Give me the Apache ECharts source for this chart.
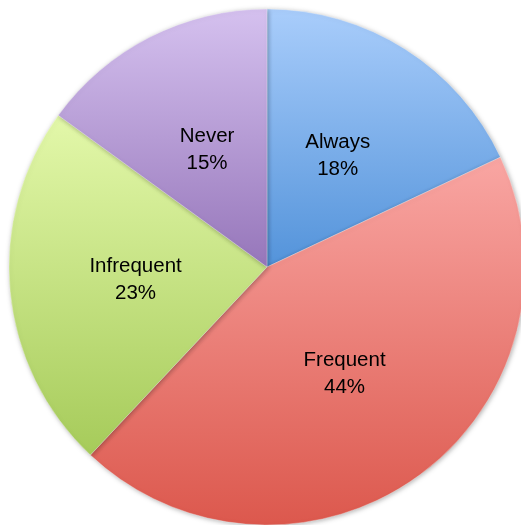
<!DOCTYPE html>
<html><head><meta charset="utf-8">
<script src="https://cdn.jsdelivr.net/npm/echarts@6/dist/echarts.min.js"></script>
<style>html,body{margin:0;padding:0;background:#fff}#c{width:521px;height:525px}</style>
</head><body><div id="c"></div>
<script>
var categories = ['Always', 'Frequent', 'Infrequent', 'Never'];
var values = [18, 44, 23, 15];
var topColors = ['#a9cdfb', '#f9a6a3', '#e3f8aa', '#d5c1ef'];
var bottomColors = ['#5393da', '#dc584d', '#a6cb5a', '#9676ba'];

var chart = echarts.init(document.getElementById('c'));
chart.setOption({
  animation: false,
  series: [{
    type: 'pie',
    center: [267, 267],
    radius: [0, 258],
    startAngle: 90,
    clockwise: true,
    label: {
      position: 'inside',
      formatter: function (p) { return p.name + '\n' + p.value + '%'; },
      color: '#000',
      fontFamily: 'Liberation Sans, Arial, sans-serif',
      fontSize: 20.5,
      lineHeight: 27,
      align: 'center'
    },
    labelLine: { show: false },
    itemStyle: {
      borderColor: 'rgba(255,255,255,0.6)',
      borderWidth: 0.5,
      shadowBlur: 5,
      shadowColor: 'rgba(0,0,0,0.3)',
      shadowOffsetX: 1,
      shadowOffsetY: 1
    },
    emphasis: { disabled: true },
    data: categories.map(function (c, i) {
      return {
        name: c,
        value: values[i],
        itemStyle: {
          color: new echarts.graphic.LinearGradient(0, 0, 0, 1, [
            { offset: 0, color: topColors[i] },
            { offset: 1, color: bottomColors[i] }
          ])
        }
      };
    })
  }]
});
</script></body></html>
